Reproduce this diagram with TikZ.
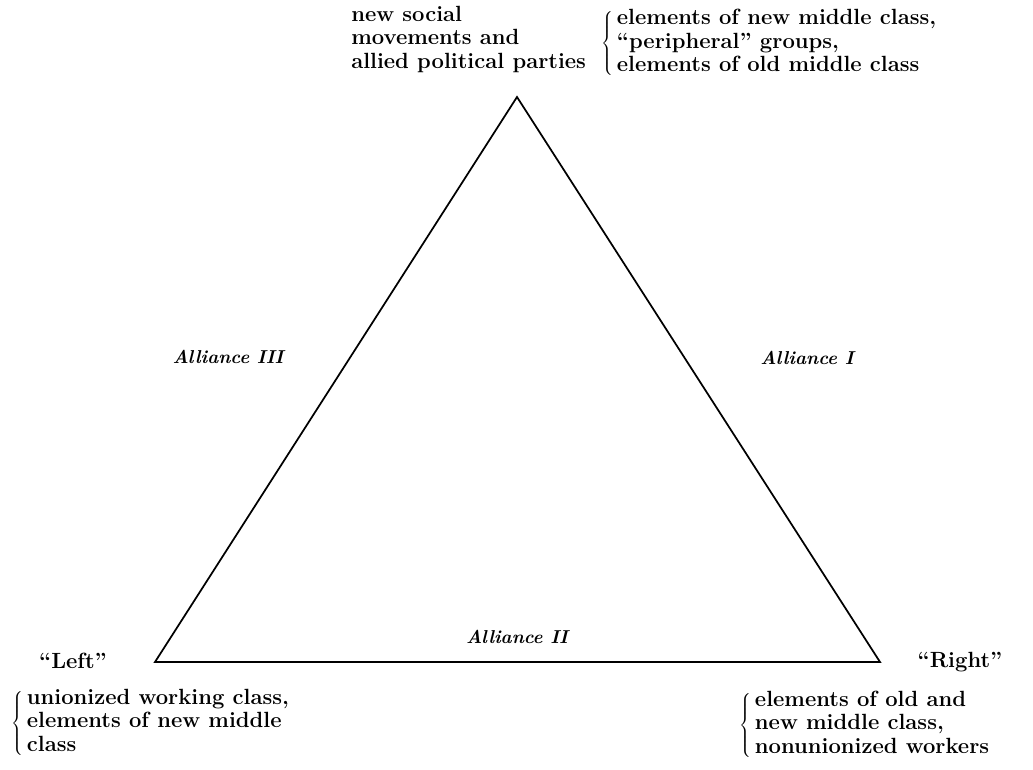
\documentclass[tikz,border=0pt]{standalone}
\begin{document}
\begin{tikzpicture}[x=0.75pt,y=0.75pt,yscale=-1,xscale=1]
\tikzset{lbl/.style={inner sep=0.75pt,font=\fontsize{16.5}{17.6}\selectfont\bfseries,align=left},
alli/.style={inner sep=0.75pt,font=\fontsize{14}{17}\selectfont\bfseries\itshape}}
\useasboundingbox (0,0) rectangle (1033,770);

%Corners of the triangle
\coordinate (apex) at (517,97);
\coordinate (left) at (155,662);
\coordinate (right) at (880,662);
%Shape: Triangle
\draw [line width=1.3pt, line join=miter] (apex) -- (right) -- (left) -- cycle ;

% Text Node
\node (social) at (350,5) [anchor=north west][lbl] {new social\\movements and\\allied political parties};
% Text Node
\node (topgroups) at (600,7) [anchor=north west][lbl] {$\left\{\,\mbox{\begin{tabular}{@{}l@{}}elements of new middle class,\\``peripheral'' groups,\\elements of old middle class\end{tabular}}\right.$};
% Text Node
\node (leftlbl) at (73,661) [lbl] {``Left''};
% Text Node
\node (rightlbl) at (960,662) [lbl] {``Right''};
% Text Node
\node (leftgroups) at (10,723) [anchor=west][lbl] {$\left\{\,\mbox{\begin{tabular}{@{}l@{}}unionized working class,\\elements of new middle\\class\end{tabular}}\right.$};
% Text Node
\node (rightgroups) at (738,725) [anchor=west][lbl] {$\left\{\,\mbox{\begin{tabular}{@{}l@{}}elements of old and\\new middle class,\\nonunionized workers\end{tabular}}\right.$};
% Text Node
\node (allthree) at (228,357) [alli] {Alliance III};
% Text Node
\node (allone) at (807,358) [alli] {Alliance I};
% Text Node
\node (alltwo) at (517,637) [alli] {Alliance II};

\end{tikzpicture}
\end{document}
